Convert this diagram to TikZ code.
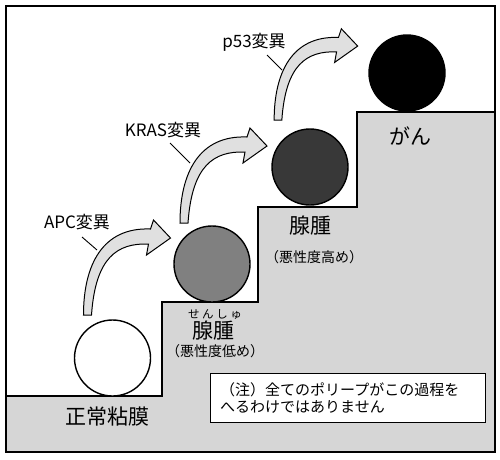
\documentclass[tikz,border=0pt]{standalone}
\usepackage{fontspec}
\setmainfont{Noto Sans CJK JP}
\tikzset{
  frame/.style={draw=black, line width=2pt},
  ground/.style={draw=black, line width=1.4pt, fill=black!16},
  ball/.style={draw=black, line width=1.4pt},
  mutarrow/.style={draw=black, line width=1pt, fill=black!12, line join=miter},
  lbl/.style={inner sep=0pt, font=\fontsize{17pt}{20pt}\selectfont},
  biglbl/.style={inner sep=0pt, font=\fontsize{21pt}{24pt}\selectfont},
  sublbl/.style={inner sep=0pt, font=\fontsize{14pt}{16pt}\selectfont},
  rubylbl/.style={inner sep=0pt, font=\fontsize{11.5pt}{13pt}\selectfont},
  pointer/.style={draw=black, line width=0.9pt},
  notebox/.style={draw=black, line width=1pt, fill=white},
  notetext/.style={inner sep=0pt, anchor=west, font=\fontsize{15pt}{17pt}\selectfont}
}
\newcommand\drawmutarrow[3]{%
  \begin{scope}[shift={(#1,#2)}, scale=#3]
    \draw[mutarrow] (-4,0) .. controls (-4,-50) and (15,-88) .. (63,-86)
      -- (66,-95) -- (83,-77) -- (59,-60) -- (61,-71)
      .. controls (30,-72) and (8,-58) .. (4,0) -- cycle;
  \end{scope}}
\begin{document}
\begin{tikzpicture}[x=1pt, y=-1pt]
  \useasboundingbox (0,0) rectangle (500,459);
  \fill[white] (0,0) rectangle (500,459);
  % ground / stairs
  \draw[ground] (6,452) -- (6,396) -- (162,396) -- (162,302) -- (258,302)
    -- (258,207) -- (357,207) -- (357,112) -- (495,112) -- (495,452) -- cycle;
  % frame
  \draw[frame] (6,6) rectangle (495,452);
  % balls
  \node[ball, circle, minimum size=76pt, fill=white] (normal) at (112.5,358) {};
  \node[ball, circle, minimum size=76pt, fill=black!50] (adlow) at (212,264) {};
  \node[ball, circle, minimum size=76pt, fill=black!78] (adhigh) at (310,167) {};
  \node[ball, circle, minimum size=76pt, fill=black] (cancer) at (407,73) {};
  % arrows
  \drawmutarrow{87.5}{315}{1}
  \drawmutarrow{184}{223}{1}
  \drawmutarrow{278}{120}{0.96}
  % labels
  \node[lbl] (apc) at (77,222) {APC変異};
  \node[lbl] (kras) at (163,130) {KRAS変異};
  \node[lbl] (p53) at (254,42) {p53変異};
  \coordinate (apcA) at (82,237); \coordinate (apcB) at (97,250);
  \coordinate (krasA) at (170,143); \coordinate (krasB) at (190,163);
  \coordinate (p53A) at (267,55); \coordinate (p53B) at (282,70);
  \draw[pointer] (apcA) -- (apcB);
  \draw[pointer] (krasA) -- (krasB);
  \draw[pointer] (p53A) -- (p53B);
  % stage labels
  \node[biglbl] (normaltxt) at (107,417) {正常粘膜};
  \node[biglbl] (cancertxt) at (410,136) {がん};
  \node[rubylbl] (ruby) at (215,314) {\makebox[54pt]{せ\hfill ん\hfill し\hfill ゅ}};
  \node[biglbl] (adlowtxt) at (213,331) {腺腫};
  \node[sublbl] (adlowsub) at (215,351) {（悪性度低め）};
  \node[biglbl] (adhightxt) at (310,226) {腺腫};
  \node[sublbl] (adhighsub) at (314,257) {（悪性度高め）};
  % note
  \draw[notebox] (210,373) rectangle (485,422);
  \node[notetext] (note1) at (220,390) {（注）全てのポリープがこの過程を};
  \node[notetext] (note2) at (220,407) {へるわけではありません};
\end{tikzpicture}
\end{document}
